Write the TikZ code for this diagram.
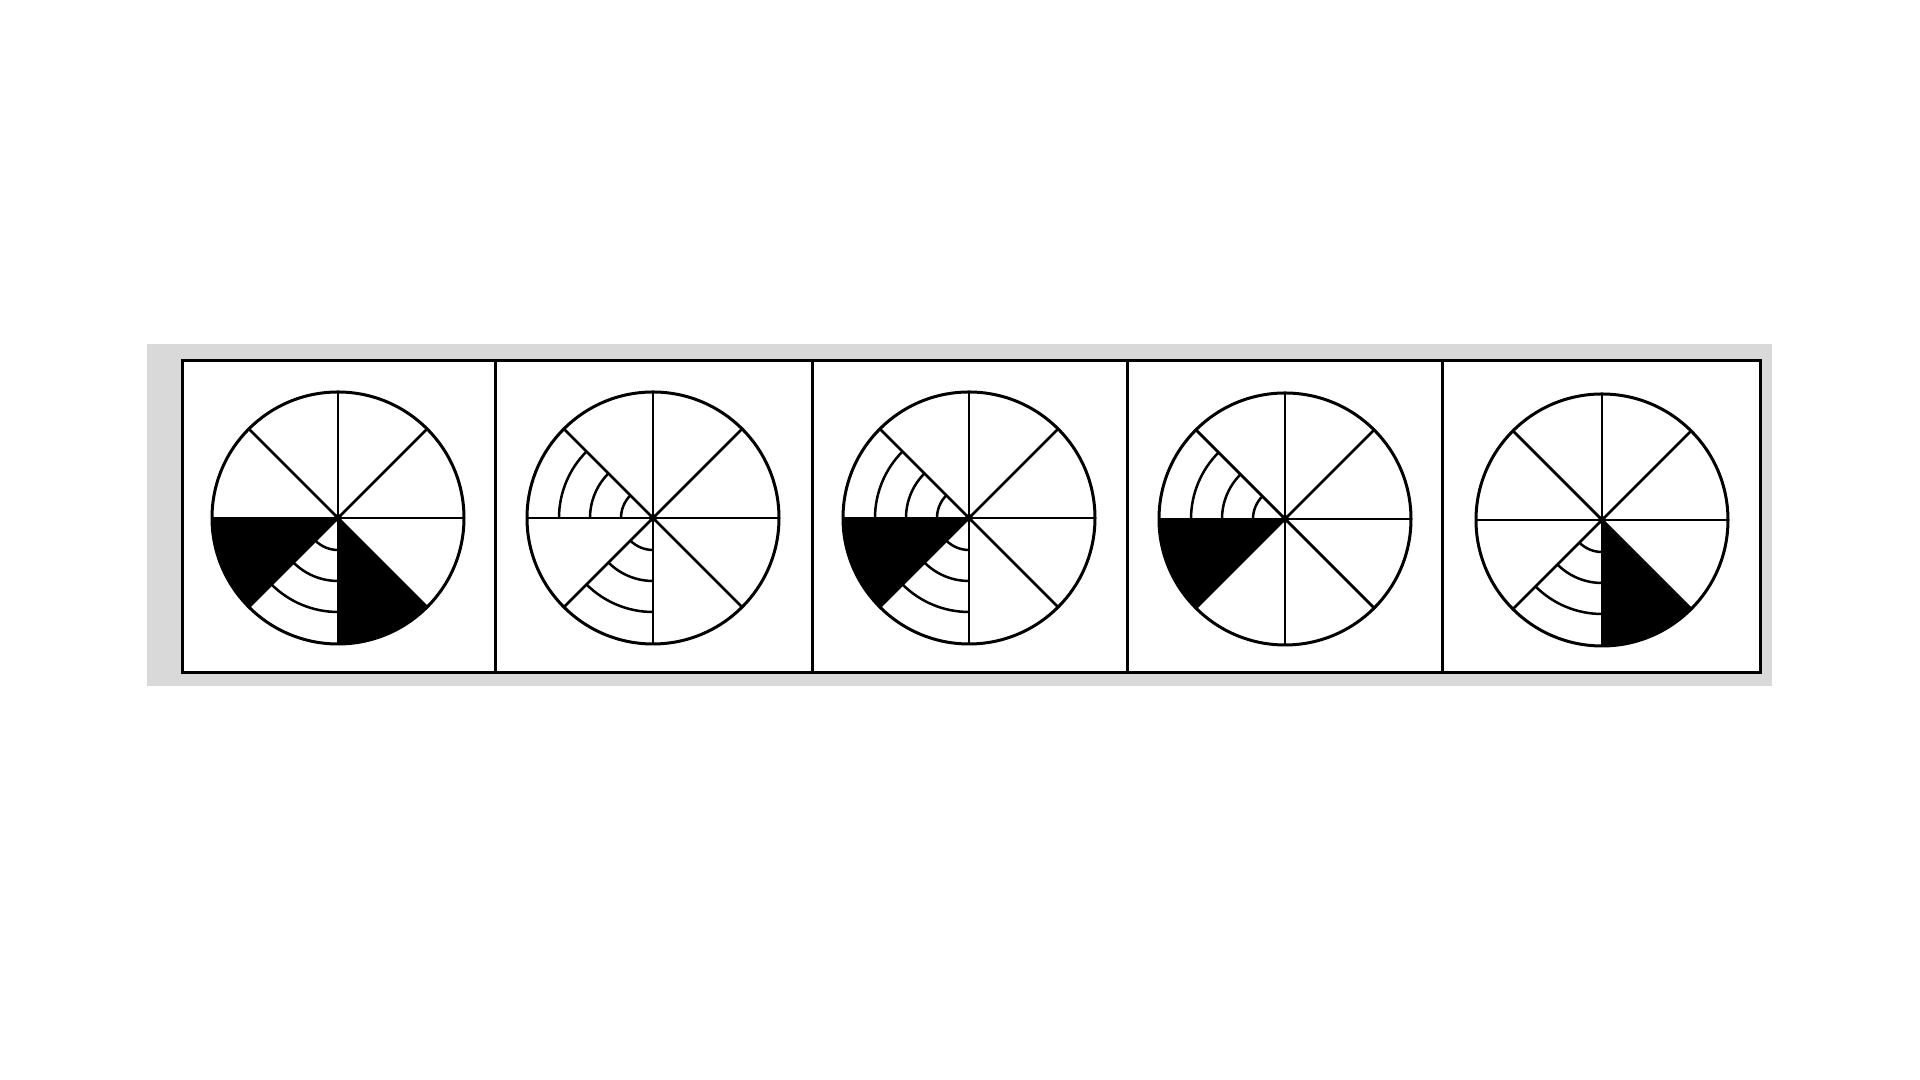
\documentclass[tikz,border=0pt]{standalone}
\usetikzlibrary{calc}
\tikzset{
  frameline/.style={line width=0.75pt, draw=black},
  inkfill/.style={fill=black},
  sectorfill/.style={fill=black},
  band/.style={fill=black!15},
}
% #1 centre coordinate name, #2 black sector start angles, #3 ringed sector start angles
\newcommand\wheelpic[3]{%
  \foreach \a in {#2} {
    \fill[sectorfill] (#1) -- ($(#1)+(\a:126)$) arc[start angle=\a, delta angle=45, radius=126] -- cycle;
  }
  \foreach \a in {#3} {
    \foreach \rr in {32,63,94} {
      \fill[inkfill] ($(#1)+(\a:\rr-1.25)$) arc[start angle=\a, delta angle=45, radius=\rr-1.25]
        -- ($(#1)+(\a+45:\rr+1.25)$) arc[start angle=\a+45, delta angle=-45, radius=\rr+1.25] -- cycle;
    }
  }
  \foreach \a in {0,45,90,135} {
    \fill[inkfill, rotate around={\a:(#1)}] ($(#1)+(-126,-1.4)$) rectangle ($(#1)+(126,1.4)$);
  }
  \fill[inkfill, even odd rule] (#1) circle[radius=127.5] (#1) circle[radius=124.5];
  \fill[inkfill] (#1) circle[radius=4];
}
\begin{document}
\begin{tikzpicture}[x=0.25pt,y=0.25pt]
\useasboundingbox (0,0) rectangle (1920,1080);
\fill[white] (0,0) rectangle (1920,1080);
\fill[band] (147,394) rectangle (1772,736);
\fill[white] (182,407) rectangle (1760,719);
\draw[frameline] (182,407) rectangle (1760,719);
\foreach \x in {495,812,1127,1442} {
  \draw[frameline] (\x,407) -- (\x,719);
}
\coordinate (c1) at (338,562);
\coordinate (c2) at (653,562);
\coordinate (c3) at (969,562);
\coordinate (c4) at (1285,561);
\coordinate (c5) at (1602,560);
\wheelpic{c1}{180,270}{225}
\wheelpic{c2}{}{135,225}
\wheelpic{c3}{180}{135,225}
\wheelpic{c4}{180}{135}
\wheelpic{c5}{270}{225}
\end{tikzpicture}
\end{document}
